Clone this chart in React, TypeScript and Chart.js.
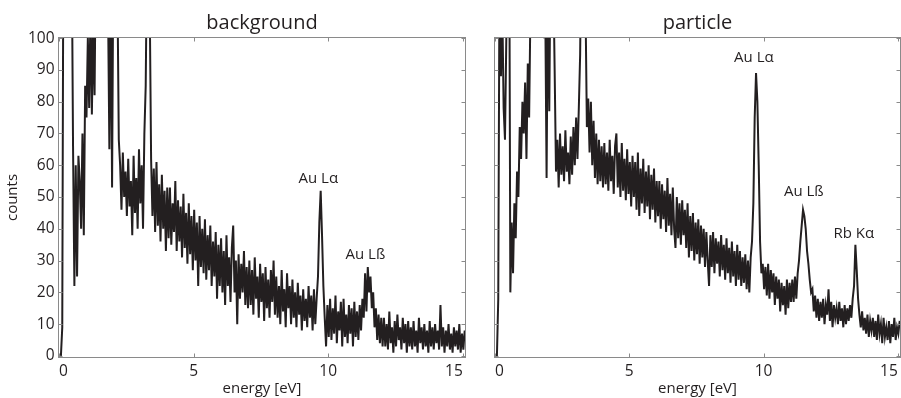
import React, { useEffect, useRef } from "react";
import { Chart, registerables } from "chart.js";

Chart.register(...registerables);

// Channel grid of both spectra (energy of the first channel and channel width, eV)
const ENERGY_START = 0.07;
const ENERGY_STEP = 0.05;

const backgroundCounts = [
  0, 9, 160, 180, 150, 170, 140, 160, 130, 66, 22, 60, 25, 63, 55, 40, 70, 38, 85, 75,
  100, 78, 110, 76, 105, 82, 130, 200, 300, 400, 350, 250, 180, 140, 120, 110, 65, 120, 53, 130,
  160, 140, 115, 68, 60, 46, 64, 50, 58, 44, 62, 47, 55, 38, 63, 45, 56, 40, 65, 48,
  60, 40, 70, 85, 130, 180, 110, 62, 44, 59, 39, 61, 41, 54, 36, 57, 40, 52, 33, 53,
  37, 53, 35, 48, 39, 55, 33, 49, 36, 47, 31, 51, 34, 45, 29, 48, 32, 44, 27, 46,
  30, 42, 22, 44, 28, 40, 26, 43, 24, 38, 27, 41, 22, 36, 25, 39, 18, 35, 22, 37,
  20, 33, 16, 38, 22, 31, 17, 34, 41, 20, 30, 10, 32, 18, 29, 20, 33, 16, 28, 15,
  30, 16, 27, 13, 31, 18, 25, 12, 29, 17, 26, 11, 28, 15, 24, 12, 27, 17, 30, 13,
  25, 12, 22, 10, 27, 14, 21, 9, 26, 15, 22, 10, 24, 12, 20, 9, 23, 13, 19, 8,
  21, 11, 18, 9, 22, 12, 19, 8, 21, 10, 18, 25, 42, 52, 38, 22, 12, 3, 16, 6,
  18, 5, 15, 7, 19, 4, 14, 8, 17, 3, 18, 6, 13, 4, 16, 7, 15, 3, 17, 6,
  14, 5, 16, 8, 18, 12, 26, 14, 28, 20, 25, 15, 20, 9, 15, 5, 13, 4, 12, 3,
  12, 3, 10, 2, 14, 4, 9, 1, 11, 3, 13, 5, 9, 2, 12, 4, 10, 1, 11, 3,
  9, 2, 11, 3, 8, 1, 12, 4, 9, 2, 10, 3, 8, 1, 11, 3, 9, 2, 10, 4,
  8, 2, 16, 3, 9, 1, 8, 3, 10, 2, 7, 1, 9, 3, 8, 2, 10, 1, 7, 2,
  8,
];

const particleCounts = [
  0, 18, 130, 88, 110, 78, 68, 100, 140, 160, 20, 42, 26, 48, 37, 58, 50, 72, 62, 80,
  70, 86, 62, 92, 75, 110, 200, 350, 420, 380, 260, 180, 140, 115, 105, 100, 110, 56, 120, 77,
  130, 150, 120, 90, 58, 68, 53, 70, 57, 66, 55, 71, 58, 64, 54, 69, 57, 72, 60, 75,
  62, 78, 95, 140, 200, 160, 110, 72, 81, 64, 80, 60, 74, 56, 70, 54, 68, 55, 66, 53,
  67, 54, 64, 52, 68, 55, 63, 51, 66, 70, 53, 64, 50, 67, 52, 62, 49, 65, 51, 61,
  47, 63, 50, 61, 46, 64, 44, 59, 48, 62, 45, 58, 47, 60, 43, 57, 46, 59, 42, 55,
  44, 55, 40, 54, 43, 52, 39, 56, 41, 51, 38, 53, 40, 34, 50, 37, 48, 35, 49, 38,
  46, 34, 48, 31, 44, 33, 45, 30, 42, 32, 43, 29, 41, 31, 40, 28, 39, 30, 22, 38,
  28, 39, 26, 37, 29, 36, 25, 38, 27, 35, 24, 37, 26, 34, 23, 36, 25, 33, 22, 35,
  24, 33, 22, 31, 23, 32, 21, 30, 20, 31, 36, 48, 75, 89, 80, 60, 36, 26, 29, 21,
  28, 19, 29, 18, 27, 20, 26, 16, 25, 18, 24, 14, 23, 16, 22, 13, 24, 15, 23, 17,
  24, 17, 25, 18, 26, 30, 36, 41, 46, 44, 40, 33, 29, 24, 20, 21, 14, 19, 12, 18,
  11, 17, 12, 18, 10, 16, 13, 21, 11, 17, 9, 16, 12, 15, 10, 17, 11, 15, 9, 16,
  10, 15, 11, 16, 12, 18, 22, 35, 27, 18, 13, 9, 14, 8, 12, 7, 13, 6, 11, 8,
  12, 6, 11, 5, 13, 7, 10, 4, 12, 6, 9, 5, 11, 4, 10, 6, 12, 5, 9, 7,
  11,
];

const X_TICKS = [0, 5, 10, 15];
const Y_TICKS = [0, 10, 20, 30, 40, 50, 60, 70, 80, 90, 100];

// peak annotations (text, energy, counts) for each panel
const backgroundPeakLabels = ["Au Lα", "Au Lß"];
const backgroundPeakEnergies = [9.63, 11.38];
const backgroundPeakCounts = [55.7, 31.8];

const particlePeakLabels = ["Au Lα", "Au Lß", "Rb Kα"];
const particlePeakEnergies = [9.64, 11.5, 13.36];
const particlePeakCounts = [93.9, 51.6, 38.4];

const FONT = '"Open Sans", "Noto Sans", "DejaVu Sans", sans-serif';
const INK = "#231f20";
const AXIS_COLOR = "#8a8a8a";
const TICK_LEN = 4;

function toPoints(counts: number[]) {
  return counts.map((c, i) => ({ x: ENERGY_START + i * ENERGY_STEP, y: c }));
}

const panelPlugin = {
  id: "panel",
  afterDraw(chart: any, _args: any, opts: any) {
    const { ctx, chartArea: a, scales } = chart;
    const xs = scales.x;
    const ys = scales.y;
    ctx.save();
    ctx.strokeStyle = AXIS_COLOR;
    ctx.lineWidth = 1;
    ctx.strokeRect(a.left, a.top, a.right - a.left, a.bottom - a.top);
    ctx.beginPath();
    for (const v of X_TICKS) {
      const px = Math.round(xs.getPixelForValue(v)) + 0.5;
      ctx.moveTo(px, a.bottom);
      ctx.lineTo(px, a.bottom - TICK_LEN);
      ctx.moveTo(px, a.top);
      ctx.lineTo(px, a.top + TICK_LEN);
    }
    for (const v of Y_TICKS) {
      const py = Math.round(ys.getPixelForValue(v)) + 0.5;
      ctx.moveTo(a.left, py);
      ctx.lineTo(a.left + TICK_LEN, py);
      ctx.moveTo(a.right, py);
      ctx.lineTo(a.right - TICK_LEN, py);
    }
    ctx.stroke();

    ctx.fillStyle = INK;
    ctx.textAlign = "center";
    ctx.textBaseline = "alphabetic";
    ctx.font = `20px ${FONT}`;
    ctx.fillText(opts.title, (a.left + a.right) / 2, a.top - 9);

    ctx.font = `15px ${FONT}`;
    ctx.textBaseline = "middle";
    opts.labels.forEach((t: string, i: number) => {
      ctx.fillText(t, xs.getPixelForValue(opts.energies[i]), ys.getPixelForValue(opts.counts[i]));
    });
    ctx.restore();
  },
};

function noEdgePadding(s: any) {
  s.paddingLeft = 0;
  s.paddingRight = 0;
  s.paddingTop = 0;
  s.paddingBottom = 0;
}

function makeConfig(
  counts: number[],
  title: string,
  labels: string[],
  energies: number[],
  peakCounts: number[],
  showY: boolean
): any {
  return {
    type: "line",
    data: {
      datasets: [
        {
          data: toPoints(counts),
          borderColor: INK,
          borderWidth: 2,
          borderJoinStyle: "miter",
          pointRadius: 0,
          fill: false,
          tension: 0,
          clip: 0,
        },
      ],
    },
    options: {
      animation: false,
      responsive: false,
      events: [],
      layout: {
        padding: { top: 37.5, right: showY ? 4.5 : 0.5, bottom: 0, left: showY ? 0 : 24.5 },
      },
      plugins: {
        legend: { display: false },
        tooltip: { enabled: false },
        title: { display: false },
        panel: { title, labels, energies, counts: peakCounts },
      },
      scales: {
        x: {
          type: "linear",
          min: -0.02,
          max: 15.1,
          afterBuildTicks: (s: any) => {
            s.ticks = X_TICKS.map((v) => ({ value: v }));
          },
          afterFit: (s: any) => {
            s.height = 40.5;
            noEdgePadding(s);
          },
          grid: { display: false, drawTicks: false },
          border: { display: false },
          ticks: {
            color: INK,
            font: { family: FONT, size: 15.5 },
            padding: 5,
            maxRotation: 0,
            autoSkip: false,
            align: "inner",
          },
          title: {
            display: true,
            text: "energy [eV]",
            color: INK,
            font: { family: FONT, size: 15 },
            padding: { top: 0, bottom: 0 },
          },
        },
        y: {
          type: "linear",
          display: showY,
          min: -0.5,
          max: 100.2,
          afterBuildTicks: (s: any) => {
            s.ticks = Y_TICKS.map((v) => ({ value: v }));
          },
          afterFit: (s: any) => {
            if (showY) s.width = 58.5;
            noEdgePadding(s);
          },
          grid: { display: false, drawTicks: false },
          border: { display: false },
          ticks: {
            color: INK,
            font: { family: FONT, size: 15.5 },
            padding: 4,
            autoSkip: false,
          },
          title: {
            display: true,
            text: "counts",
            color: INK,
            font: { family: FONT, size: 15 },
            padding: { top: 4, bottom: 0 },
          },
        },
      },
    },
    plugins: [panelPlugin],
  };
}

function Panel(props: {
  left: number;
  width: number;
  counts: number[];
  title: string;
  labels: string[];
  energies: number[];
  peakCounts: number[];
  showY: boolean;
}) {
  const ref = useRef<HTMLCanvasElement | null>(null);
  useEffect(() => {
    if (!ref.current) return;
    const chart = new Chart(
      ref.current,
      makeConfig(props.counts, props.title, props.labels, props.energies, props.peakCounts, props.showY)
    );
    return () => chart.destroy();
  }, []);
  return (
    <canvas
      ref={ref}
      width={props.width}
      height={398}
      style={{ position: "absolute", left: props.left, top: 0, width: props.width, height: 398 }}
    />
  );
}

export default function App() {
  return (
    <div
      style={{
        position: "absolute",
        left: 0,
        top: 0,
        width: 901,
        height: 398,
        background: "#ffffff",
        overflow: "hidden",
      }}
    >
      <Panel
        left={0}
        width={470}
        counts={backgroundCounts}
        title="background"
        labels={backgroundPeakLabels}
        energies={backgroundPeakEnergies}
        peakCounts={backgroundPeakCounts}
        showY={true}
      />
      <Panel
        left={470}
        width={431}
        counts={particleCounts}
        title="particle"
        labels={particlePeakLabels}
        energies={particlePeakEnergies}
        peakCounts={particlePeakCounts}
        showY={false}
      />
    </div>
  );
}
